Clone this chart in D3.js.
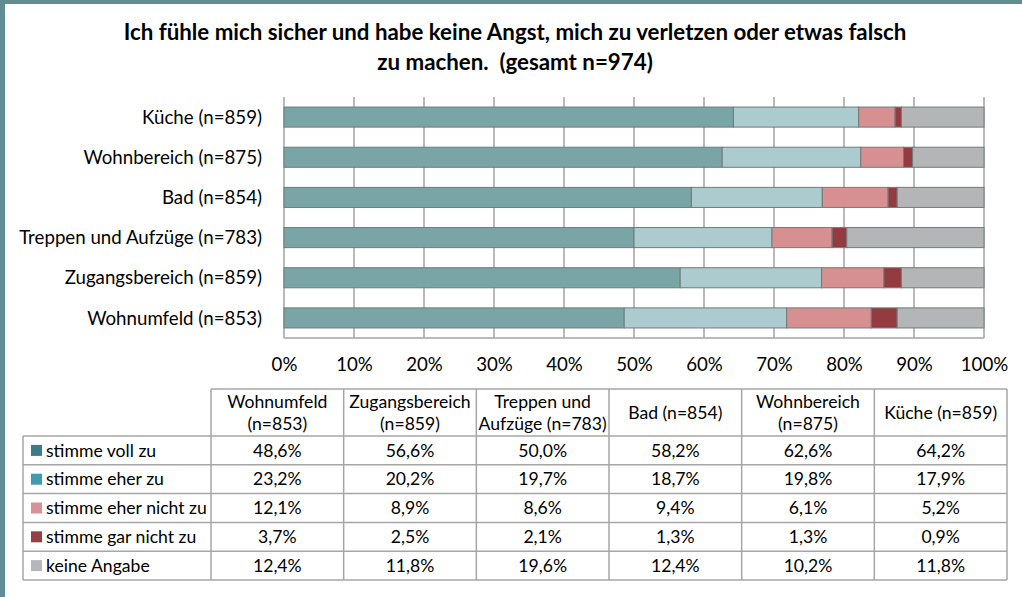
<!DOCTYPE html>
<html lang="de">
<head>
<meta charset="utf-8">
<script src="https://cdn.jsdelivr.net/npm/d3@7"></script>
<style>
  html, body { margin: 0; padding: 0; background: #fff; }
  svg { display: block; font-family: Lato, "Open Sans", sans-serif; }
</style>
</head>
<body>
<svg id="chart" width="1022" height="597"></svg>
<script>
// Areas in table order (left to right); the bars list them bottom to top.
const areas = ["Wohnumfeld", "Zugangsbereich", "Treppen und Aufzüge", "Bad", "Wohnbereich", "Küche"];
const sampleSizes = [853, 859, 783, 854, 875, 859];
// Column headings of the table, one entry per area, split into lines.
const tableHeaders = [
  ["Wohnumfeld", "(n=853)"],
  ["Zugangsbereich", "(n=859)"],
  ["Treppen und", "Aufzüge (n=783)"],
  ["Bad (n=854)"],
  ["Wohnbereich", "(n=875)"],
  ["Küche (n=859)"]
];

const answers = ["stimme voll zu", "stimme eher zu", "stimme eher nicht zu", "stimme gar nicht zu", "keine Angabe"];

// Shares in percent, per area (same order as `areas`).
const stimmeVollZu      = [48.6, 56.6, 50.0, 58.2, 62.6, 64.2];
const stimmeEherZu      = [23.2, 20.2, 19.7, 18.7, 19.8, 17.9];
const stimmeEherNichtZu = [12.1,  8.9,  8.6,  9.4,  6.1,  5.2];
const stimmeGarNichtZu  = [ 3.7,  2.5,  2.1,  1.3,  1.3,  0.9];
const keineAngabe       = [12.4, 11.8, 19.6, 12.4, 10.2, 11.8];

const axisTicks = [0, 10, 20, 30, 40, 50, 60, 70, 80, 90, 100];

const seriesValues = [stimmeVollZu, stimmeEherZu, stimmeEherNichtZu, stimmeGarNichtZu, keineAngabe];
const barColors    = ["#7aa5a6", "#abcbce", "#d69091", "#933b40", "#b3b5b6"];
const legendColors = ["#3a7c87", "#3e9cac", "#d69298", "#963f44", "#b5b7b8"];

const de = d3.formatLocale({ decimal: ",", thousands: ".", grouping: [3], currency: ["", " €"] });
const pct = v => de.format(".1f")(v) + "%";

const svg = d3.select("#chart");

// Frame strips along the top and left edge
svg.append("rect").attr("x", 0).attr("y", 0).attr("width", 1022).attr("height", 4).attr("fill", "#5f8d90");
svg.append("rect").attr("x", 0).attr("y", 0).attr("width", 5).attr("height", 597).attr("fill", "#5f8d90");

// Title
const title = svg.append("text")
  .attr("text-anchor", "middle")
  .attr("font-weight", "bold")
  .attr("font-size", 22.3)
  .attr("fill", "#000");
title.append("tspan").attr("x", 515).attr("y", 40)
  .text("Ich fühle mich sicher und habe keine Angst, mich zu verletzen oder etwas falsch");
title.append("tspan").attr("x", 515).attr("y", 70)
  .text("zu machen.  (gesamt n=974)").attr("xml:space", "preserve");

// Scales
const x = d3.scaleLinear().domain([0, 100]).range([284, 984]);
const rows = areas.map((a, i) => ({ area: a, n: sampleSizes[i], idx: i }));
const y = d3.scaleBand()
  .domain(rows.slice().reverse().map(d => d.area))
  .range([97, 338])
  .paddingInner(0.5)
  .paddingOuter(0.25);

// Vertical gridlines
svg.append("g")
  .selectAll("line")
  .data(axisTicks)
  .join("line")
  .attr("x1", d => x(d)).attr("x2", d => x(d))
  .attr("y1", 97).attr("y2", 338)
  .attr("stroke", "#a3a3a3")
  .attr("stroke-width", 1.5);

// Baseline of the plot
svg.append("line")
  .attr("x1", x(0)).attr("x2", x(100))
  .attr("y1", 338).attr("y2", 338)
  .attr("stroke", "#a3a3a3").attr("stroke-width", 1.5);

// Stacked bars
const stackData = rows.map(r => {
  const o = { area: r.area };
  answers.forEach((k, j) => { o[k] = seriesValues[j][r.idx]; });
  return o;
});
const stacked = d3.stack().keys(answers)(stackData);

svg.append("g")
  .selectAll("g")
  .data(stacked)
  .join("g")
  .attr("fill", (d, j) => barColors[j])
  .selectAll("rect")
  .data(d => d)
  .join("rect")
  .attr("x", d => x(d[0]))
  .attr("width", d => x(d[1]) - x(d[0]))
  .attr("y", d => y(d.data.area))
  .attr("height", y.bandwidth())
  .attr("stroke", "#717b7c")
  .attr("stroke-width", 1);

// Category labels
svg.append("g")
  .selectAll("text")
  .data(rows)
  .join("text")
  .attr("x", 262)
  .attr("y", d => y(d.area) + y.bandwidth() / 2)
  .attr("dy", "0.36em")
  .attr("text-anchor", "end")
  .attr("font-size", 18.7)
  .attr("fill", "#000")
  .text(d => `${d.area} (n=${d.n})`);

// Percentage axis
const xAxis = d3.axisBottom(x)
  .tickValues(axisTicks)
  .tickFormat(d => d + "%")
  .tickSize(0)
  .tickPadding(0);
const axisG = svg.append("g").attr("transform", "translate(0,357)").call(xAxis);
axisG.select(".domain").remove();
axisG.selectAll("text")
  .attr("font-family", "Lato, 'Open Sans', sans-serif")
  .attr("font-size", 18.7)
  .attr("fill", "#000")
  .attr("dy", "0.75em");

// Data table
const tableLeft = 23, labelRight = 211, tableRight = 1007;
const headerTop = 389, headerBottom = 436, tableBottom = 580;
const colW = (tableRight - labelRight) / areas.length;
const rowH = (tableBottom - headerBottom) / answers.length;
const gridStroke = "#a6a6a6";

const table = svg.append("g").attr("font-size", 17.6).attr("fill", "#000");

// Header cells
areas.forEach((a, i) => {
  const cx = labelRight + colW * i + colW / 2;
  const lines = tableHeaders[i];
  const t = table.append("text").attr("text-anchor", "middle");
  if (lines.length === 1) {
    t.append("tspan").attr("x", cx).attr("y", 419).text(lines[0]);
  } else {
    lines.forEach((ln, k) => t.append("tspan").attr("x", cx).attr("y", 408 + k * 21.5).text(ln));
  }
});

// Row labels with colour keys, and values
answers.forEach((ans, j) => {
  const top = headerBottom + rowH * j;
  const cy = top + rowH / 2;
  table.append("rect")
    .attr("x", 31).attr("y", cy - 5.5)
    .attr("width", 11).attr("height", 11)
    .attr("fill", legendColors[j]);
  table.append("text")
    .attr("x", 46).attr("y", cy).attr("dy", "0.35em")
    .text(ans);
  seriesValues[j].forEach((v, i) => {
    table.append("text")
      .attr("x", labelRight + colW * i + colW / 2)
      .attr("y", cy).attr("dy", "0.35em")
      .attr("text-anchor", "middle")
      .text(pct(v));
  });
});

// Table rules
const rules = svg.append("g").attr("stroke", gridStroke).attr("stroke-width", 1.5).attr("fill", "none");
rules.append("line").attr("x1", labelRight).attr("x2", tableRight).attr("y1", headerTop).attr("y2", headerTop);
d3.range(answers.length + 1).forEach(j => {
  const yy = headerBottom + rowH * j;
  rules.append("line").attr("x1", tableLeft).attr("x2", tableRight).attr("y1", yy).attr("y2", yy);
});
rules.append("line").attr("x1", tableLeft).attr("x2", tableLeft).attr("y1", headerBottom).attr("y2", tableBottom);
d3.range(areas.length + 1).forEach(i => {
  const xx = labelRight + colW * i;
  rules.append("line").attr("x1", xx).attr("x2", xx).attr("y1", headerTop).attr("y2", tableBottom);
});
</script>
</body>
</html>
